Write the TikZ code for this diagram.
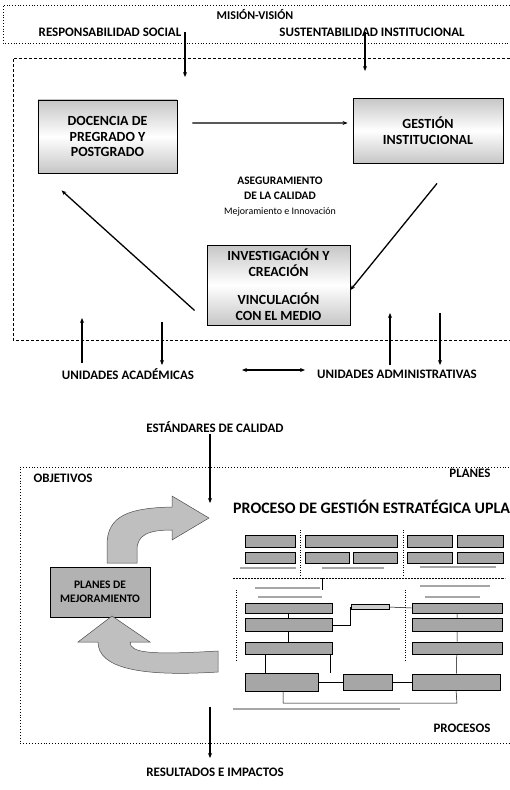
\documentclass[tikz,border=0pt]{standalone}
\usepackage{fontspec}
\setmainfont{Carlito}
\usetikzlibrary{arrows.meta, positioning}
\tikzstyle{arrow} = [line width=1.3pt,-{Stealth[length=5pt,width=4pt]}]
\tikzstyle{dblarrow} = [line width=1.3pt,{Stealth[length=5pt,width=4pt]}-{Stealth[length=5pt,width=4pt]}]
\tikzstyle{lbl} = [font=\bfseries\fontsize{13}{15}\selectfont, inner sep=1pt]
\tikzstyle{gbox} = [draw, line width=0.9pt, top color=gray!45, bottom color=gray!45, middle color=white, align=center, font=\bfseries\fontsize{14}{16}\selectfont]
\tikzstyle{pbox} = [draw, line width=0.7pt, fill=gray!70, inner sep=0pt]
\tikzstyle{pline} = [line width=0.5pt]
\tikzstyle{pcap} = [line width=1.2pt, gray!70]
\tikzstyle{bigarrow} = [draw=black!70, line width=0.5pt, fill=gray!50]

\begin{document}
\begin{tikzpicture}[x=1bp, y=-1bp]
        \useasboundingbox (0,0) rectangle (510,790);

        % Mision-vision band
        \draw[dotted, line width=0.8pt] (515,5) -- (3,5) -- (3,43) -- (515,43);
        \node[lbl, font=\bfseries\fontsize{12}{14}\selectfont] (mision) at (255,15) {MISIÓN-VISIÓN};
        \node[lbl] (resp) at (110,32) {RESPONSABILIDAD SOCIAL};
        \node[lbl] (sust) at (372,32) {SUSTENTABILIDAD INSTITUCIONAL};

        % Quality assurance frame
        \draw[densely dashed, line width=0.8pt] (515,58) -- (13,58) -- (13,340) -- (515,340);

        % Main functions
        \node[gbox, minimum width=139bp, minimum height=73bp] (doc) at (107.5,136.5) {DOCENCIA DE\\PREGRADO Y\\POSTGRADO};
        \node[gbox, minimum width=150bp, minimum height=65bp] (ges) at (428,130.5) {GESTIÓN\\INSTITUCIONAL};
        \node[gbox, minimum width=143bp, minimum height=80bp] (inv) at (278.5,285) {INVESTIGACIÓN Y\\CREACIÓN\\[12bp]VINCULACIÓN\\CON EL MEDIO};
        \node[align=center, font=\bfseries\fontsize{11.5}{15}\selectfont] (aseg) at (280,197) {ASEGURAMIENTO\\DE LA CALIDAD\\{\mdseries\fontsize{10}{10}\selectfont Mejoramiento e Innovación}};

        % Inputs from mision-vision
        \coordinate (rsin) at (185,77);
        \coordinate (susin) at (365,71);
        \draw[arrow] (resp.east -| rsin) -- (rsin);
        \draw[arrow] (sust.center -| susin) -- (susin);

        % Cycle
        \draw[arrow] ([xshift=15bp,yshift=13.5bp]doc.east) -- ([yshift=7.5bp,xshift=-5bp]ges.west);
        \draw[arrow] ([xshift=9bp,yshift=-20bp]ges.south) -- ([yshift=-5bp]inv.east);
        \draw[arrow] ([xshift=-12bp,yshift=15bp]inv.south west) -- ([xshift=24bp,yshift=-17bp]doc.south west);

        % Units
        \node[lbl] (acad) at (128,374) {UNIDADES ACADÉMICAS};
        \node[lbl] (adm) at (397,374) {UNIDADES ADMINISTRATIVAS};
        \coordinate (a1) at (82,318);
        \coordinate (a2) at (162,322);
        \coordinate (m1) at (390,313);
        \coordinate (m2) at (440,313);
        \draw[arrow] (a1 |- 0,363) -- (a1);
        \draw[arrow] (a2) -- (a2 |- 0,365);
        \draw[arrow] (m1 |- 0,365) -- (m1);
        \draw[arrow] (m2) -- (m2 |- 0,365);
        \draw[dblarrow] (305,370) -- (242,370);

        % Strategic management
        \node[lbl] (estd) at (215,427) {ESTÁNDARES DE CALIDAD};
        \coordinate (estin) at (210,503);
        \draw[arrow] (estd.south -| estin) -- (estin);
        \draw[dotted, line width=0.9pt] (515,467) -- (20,467) -- (20,743) -- (515,743);
        \node[lbl] (obj) at (63,478) {OBJETIVOS};
        \node[lbl] (planes) at (470,473) {PLANES};
        \node[lbl] (procs) at (462,728) {PROCESOS};
        \node[font=\bfseries\fontsize{16}{18}\selectfont, anchor=west, inner sep=0pt] (title) at (233,507) {PROCESO DE GESTIÓN ESTRATÉGICA UPLA};
        \coordinate (resout) at (210,758);
        \node[lbl] (res) at (215,772) {RESULTADOS E IMPACTOS};
        \draw[arrow] (resout |- 0,707) -- (resout);

        % Improvement plans and loop arrows
        \node[draw, line width=0.8pt, fill=gray!60, minimum width=100bp, minimum height=50bp, align=center, font=\bfseries\fontsize{11.5}{14}\selectfont] (pm) at (100,592) {PLANES DE\\MEJORAMIENTO};
        \path[bigarrow] (107,563) -- (107,545) .. controls (107,515) and (130,508) .. (172,507) -- (172,496) -- (209,518) -- (172,540) -- (172,530) .. controls (148,530) and (137,535) .. (137,550) -- (137,563) -- cycle;
        \path[bigarrow] (98,642) -- (78,642) -- (112,616) -- (150,642) -- (130,642) .. controls (130,653) and (150,655) .. (218,651) -- (218,672) .. controls (140,677) and (98,668) .. (98,642) -- cycle;

        % Process map (reduced)
        \node[pbox, minimum width=50bp, minimum height=12bp] (p11) at (270,541) {};
        \node[pbox, minimum width=92bp, minimum height=12bp] (p12) at (351,541) {};
        \node[pbox, minimum width=45bp, minimum height=12bp] (p13) at (429.5,541) {};
        \node[pbox, minimum width=46bp, minimum height=12bp] (p14) at (480,541) {};
        \node[pbox, minimum width=50bp, minimum height=11bp] (p21) at (270,557.5) {};
        \node[pbox, minimum width=44bp, minimum height=11bp] (p22) at (327,557.5) {};
        \node[pbox, minimum width=44bp, minimum height=11bp] (p23) at (375,557.5) {};
        \node[pbox, minimum width=45bp, minimum height=11bp] (p24) at (429.5,557.5) {};
        \node[pbox, minimum width=46bp, minimum height=11bp] (p25) at (480,557.5) {};
        \draw[pline, dotted] (300,530) -- (300,575);
        \draw[pline, dotted] (403,530) -- (403,575);
        \draw[pcap] (240,568) -- (296,568);
        \draw[pcap] (322,568) -- (384,568);
        \draw[pcap] (420,567) -- (496,567);
        \draw[pline, densely dotted] (233,578) -- (505,578);

        \node[pbox, minimum width=87bp, minimum height=10bp] (l1) at (288.5,608) {};
        \node[pbox, minimum width=87bp, minimum height=13bp] (l2) at (288.5,625) {};
        \node[pbox, minimum width=87bp, minimum height=12bp] (l3) at (288.5,648) {};
        \node[pbox, minimum width=90bp, minimum height=10bp] (r1) at (457,608) {};
        \node[pbox, minimum width=90bp, minimum height=13bp] (r2) at (457,625) {};
        \node[pbox, minimum width=90bp, minimum height=12bp] (r3) at (457,648) {};
        \node[pbox, minimum width=73bp, minimum height=18bp] (b1) at (281.5,682) {};
        \node[pbox, minimum width=49bp, minimum height=16bp] (b2) at (367.5,682) {};
        \node[pbox, minimum width=88bp, minimum height=16bp] (b3) at (456,682) {};
        \draw[pcap] (255,588) -- (320,588);
        \draw[pcap] (258,597) -- (322,597);
        \draw[pcap] (420,586) -- (490,586);
        \draw[pcap] (425,597) -- (480,597);
        \draw[pline] (322,578) -- (322,590);
        \draw[pline] (l1) -- (l2) -- (l3);
        \draw[pline] (r1) -- (r2) -- (r3) -- (b3);
        \draw[pline] (l3.south -| 265,0) -- (b1.north -| 265,0);
        \draw[pline] (l3.south -| 330,0) -- (b1.north -| 330,0);
        \draw[pline] (b1) -- (b2) -- (b3);
        \node[pbox, fill=gray!40, minimum width=38bp, minimum height=5bp] (tab) at (370,607) {};
        \draw[pline] (l2.east) -| (tab.west);
        \draw[pline] (tab.east) -- (r1.west);
        \draw[pline] (283,692) -- (283,703) -- (457,703) -- (b3.south);
        \draw[pcap] (233,709) -- (400,709);
        \draw[pline, dotted] (236,590) -- (236,662);
        \draw[pline, dotted] (405,590) -- (405,662);
\end{tikzpicture}
\end{document}
